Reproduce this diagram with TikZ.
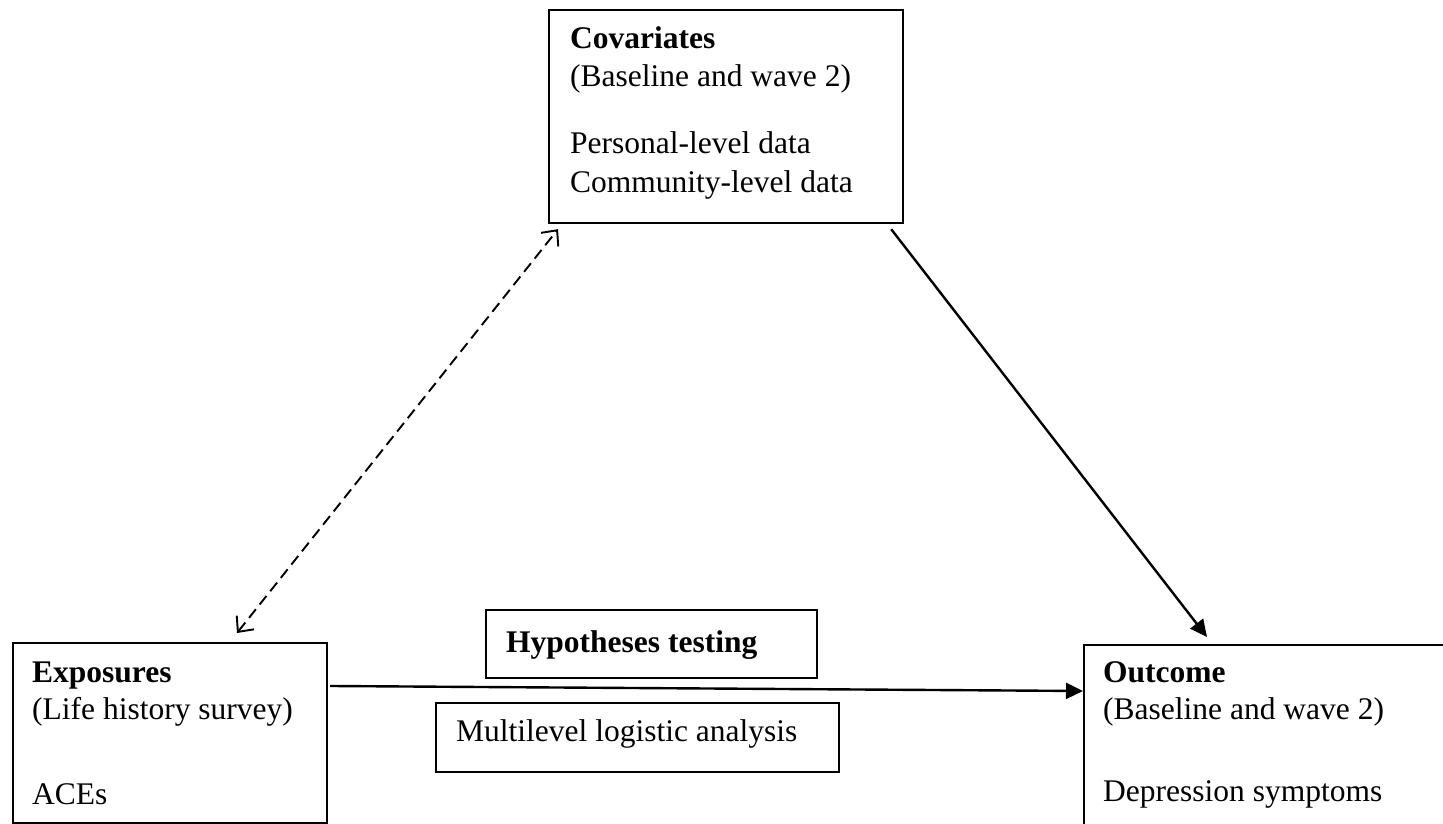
\documentclass[tikz,border=0pt]{standalone}
\usepackage{fontspec}
\setmainfont{Liberation Serif}
\usetikzlibrary{arrows.meta,calc}
\begin{document}
\begin{tikzpicture}[x=1pt,y=1pt,
  box/.style={draw,line width=2.2pt,inner sep=0pt,anchor=north west},
  txt/.style={anchor=base west,inner sep=0pt,font=\fontsize{31.5}{38}\selectfont},
  btxt/.style={txt,font=\fontsize{31.5}{38}\selectfont\bfseries},
  solidarrow/.style={line width=2.4pt,-{Triangle[length=17pt,width=16pt]}},
  corrarrow/.style={line width=1.9pt,dash pattern=on 11pt off 6pt,
    {Straight Barb[length=12pt,width=22pt]}-{Straight Barb[length=12pt,width=22pt]}}]
\useasboundingbox (0,0) rectangle (1443,824);
\clip (0,0) rectangle (1443,824);
\fill[white] (0,0) rectangle (1443,824);

% boxes
\node[box,minimum width=354pt,minimum height=213pt] (cov) at (548,815) {};
\node[box,minimum width=314pt,minimum height=180pt] (expo) at (12,182) {};
\node[box,minimum width=400pt,minimum height=200pt] (out) at (1083,180) {};
\node[box,minimum width=331pt,minimum height=68pt] (hyp) at (485,215) {};
\node[box,minimum width=403pt,minimum height=69pt] (mla) at (435,122) {};

% covariates text
\node[btxt] (covt1) at ([shift={(22,-40)}]cov.north west) {Covariates};
\node[txt] (covt2) at ([shift={(22,-78)}]cov.north west) {(Baseline and wave 2)};
\node[txt] (covt3) at ([shift={(22,-145)}]cov.north west) {Personal-level data};
\node[txt] (covt4) at ([shift={(22,-184)}]cov.north west) {Community-level data};

% exposures text
\node[btxt] (expt1) at ([shift={(20,-41)}]expo.north west) {Exposures};
\node[txt] (expt2) at ([shift={(20,-78)}]expo.north west) {(Life history survey)};
\node[txt] (expt3) at ([shift={(20,-163)}]expo.north west) {ACEs};

% outcome text
\node[btxt] (outt1) at ([shift={(20,-39)}]out.north west) {Outcome};
\node[txt] (outt2) at ([shift={(20,-76)}]out.north west) {(Baseline and wave 2)};
\node[txt] (outt3) at ([shift={(20,-158)}]out.north west) {Depression symptoms};

% analysis labels
\node[btxt] (hypt) at ([shift={(21,-44)}]hyp.north west) {Hypotheses testing};
\node[txt] (mlat) at ([shift={(21,-40)}]mla.north west) {Multilevel logistic analysis};

% connectors
\draw[corrarrow] ([shift={(225,9)}]expo.north west) -- ([shift={(10,-5)}]cov.south west);
\draw[solidarrow] ([shift={(-13,-5)}]cov.south east) -- ([shift={(124,7)}]out.north west);
\draw[solidarrow] ([shift={(2,-44)}]expo.north east) -- ([shift={(0,-47)}]out.north west);
\end{tikzpicture}
\end{document}
